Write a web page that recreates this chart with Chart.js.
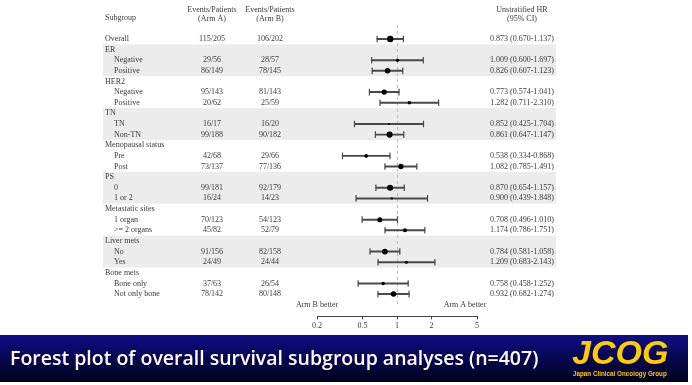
<!DOCTYPE html>
<html>
<head>
<meta charset="utf-8">
<script src="https://cdn.jsdelivr.net/npm/chart.js@4/dist/chart.umd.min.js"></script>
<style>
  body { margin: 0; background: #fff; width: 692px; height: 385px; overflow: hidden; }
  #wrap { position: relative; width: 692px; height: 338px; }
  #banner { position: absolute; left: 0; top: 335px; width: 688px; height: 47px;
    background: linear-gradient(#0d0d86, #00001a); }
  #title { position: absolute; left: 10px; top: 9px; color: #fff; font-family: "Open Sans", sans-serif;
    font-weight: 600; font-size: 19.5px; white-space: nowrap; }
  #logo { position: absolute; left: 572px; top: -1px; color: #ffcc00; font-family: "Liberation Sans", Arial, sans-serif;
    font-weight: bold; }
  #logo .j { font-style: italic; font-size: 34px; line-height: 36px; }
  #logo .s { font-size: 6.3px; line-height: 7px; margin-left: 1px; }
</style>
</head>
<body>
<div id="wrap"><canvas id="forest" width="692" height="338"></canvas></div>
<div id="banner">
  <span id="title">Forest plot of overall survival subgroup analyses (n=407)</span>
  <div id="logo"><div class="j">JCOG</div><div class="s">Japan Clinical Oncology Group</div></div>
</div>
<script>
// rows of the table, top to bottom
let rowLabels = ['Overall', 'ER', 'Negative', 'Positive', 'HER2', 'Negative', 'Positive',
    'TN', 'TN', 'Non-TN', 'Menopausal status', 'Pre', 'Post', 'PS', '0', '1 or 2',
    'Metastatic sites', '1 organ', '>= 2 organs', 'Liver mets', 'No', 'Yes',
    'Bone mets', 'Bone only', 'Not only bone'];
let rowIndent = [0, 0, 1, 1, 0, 1, 1, 0, 1, 1, 0, 1, 1, 0, 1, 1, 0, 1, 1, 0, 1, 1, 0, 1, 1];

let armA = ['115/205', '', '29/56', '86/149', '', '95/143', '20/62', '', '16/17', '99/188',
    '', '42/68', '73/137', '', '99/181', '16/24', '', '70/123', '45/82', '', '91/156', '24/49',
    '', '37/63', '78/142'];
let armB = ['106/202', '', '28/57', '78/145', '', '81/143', '25/59', '', '16/20', '90/182',
    '', '29/66', '77/136', '', '92/179', '14/23', '', '54/123', '52/79', '', '82/158', '24/44',
    '', '26/54', '80/148'];

let hr = [0.873, null, 1.009, 0.826, null, 0.773, 1.282, null, 0.852, 0.861,
    null, 0.538, 1.082, null, 0.870, 0.900, null, 0.708, 1.174, null, 0.784, 1.209,
    null, 0.758, 0.932];
let ciLow = [0.670, null, 0.600, 0.607, null, 0.574, 0.711, null, 0.425, 0.647,
    null, 0.334, 0.785, null, 0.654, 0.439, null, 0.496, 0.786, null, 0.581, 0.683,
    null, 0.458, 0.682];
let ciHigh = [1.137, null, 1.697, 1.123, null, 1.041, 2.310, null, 1.704, 1.147,
    null, 0.868, 1.491, null, 1.157, 1.848, null, 1.010, 1.751, null, 1.058, 2.143,
    null, 1.252, 1.274];

let xTicks = [0.2, 0.5, 1, 2, 5];
let shadedGroups = [1, 7, 13, 19];   // first row of each grey band (3 rows each)

let fmt = v => v.toFixed(3);
let total = i => armA[i] ? (+armA[i].split('/')[1]) + (+armB[i].split('/')[1]) : 0;
let dataRows = rowLabels.map((_, i) => i).filter(i => hr[i] != null);

let serif = '"Liberation Serif", "DejaVu Serif", serif';
let txt = '#3a3a3a';

let tablePlugin = {
    id: 'table',
    beforeDatasetsDraw(chart) {
        let ctx = chart.ctx, y = chart.scales.y, x = chart.scales.x;
        let step = y.getPixelForValue(1) - y.getPixelForValue(0);
        ctx.save();
        ctx.fillStyle = '#ececec';
        shadedGroups.forEach(g => {
            let top = y.getPixelForValue(g) - step / 2;
            ctx.fillRect(103, top, 453, step * 3);
        });
        // reference line at HR = 1
        let x1 = Math.round(x.getPixelForValue(1)) + 0.5;
        ctx.strokeStyle = '#bdbdbd';
        ctx.lineWidth = 1;
        ctx.setLineDash([3, 3]);
        ctx.beginPath();
        ctx.moveTo(x1, 25);
        ctx.lineTo(x1, y.getPixelForValue(25));
        ctx.stroke();
        ctx.restore();
    },
    afterDraw(chart) {
        let ctx = chart.ctx, y = chart.scales.y;
        ctx.save();
        ctx.fillStyle = txt;
        ctx.font = '8px ' + serif;
        ctx.textBaseline = 'middle';
        // header
        ctx.textAlign = 'left';
        ctx.fillText('Subgroup', 105, 18);
        ctx.textAlign = 'center';
        ctx.fillText('Events/Patients', 212, 10);
        ctx.fillText('(Arm A)', 212, 19);
        ctx.fillText('Events/Patients', 270, 10);
        ctx.fillText('(Arm B)', 270, 19);
        ctx.fillText('Unstratified HR', 522, 10);
        ctx.fillText('(95% CI)', 522, 19);
        rowLabels.forEach((lab, i) => {
            let py = y.getPixelForValue(i);
            ctx.textAlign = 'left';
            ctx.fillText(lab, rowIndent[i] ? 114 : 105, py);
            ctx.textAlign = 'center';
            if (armA[i]) ctx.fillText(armA[i], 212, py);
            if (armB[i]) ctx.fillText(armB[i], 270, py);
            if (hr[i] != null) {
                ctx.fillText(fmt(hr[i]) + ' (' + fmt(ciLow[i]) + '-' + fmt(ciHigh[i]) + ')', 522, py);
            }
        });
        let py = y.getPixelForValue(25);
        ctx.fillText('Arm B better', 317, py);
        ctx.fillText('Arm A better', 465, py);
        ctx.restore();
    }
};

let init = () => {
    let ctx = document.getElementById('forest').getContext('2d');
    new Chart(ctx, {
        type: 'scatter',
        data: {
            datasets: [{
                // point estimates, size by number of patients
                type: 'scatter',
                order: 0,
                data: dataRows.map(i => ({x: hr[i], y: i})),
                pointRadius: dataRows.map(i => 0.16 * Math.sqrt(total(i))),
                backgroundColor: '#000',
                borderWidth: 0
            }, {
                // whisker caps
                type: 'scatter',
                order: 1,
                data: dataRows.map(i => ({x: ciLow[i], y: i}))
                    .concat(dataRows.map(i => ({x: ciHigh[i], y: i}))),
                pointStyle: 'line',
                rotation: 90,
                pointRadius: 3.3,
                borderColor: '#4a4a4a',
                borderWidth: 1.2
            }, {
                // confidence intervals
                type: 'bar',
                order: 2,
                indexAxis: 'y',
                data: dataRows.map(i => ({y: i, x: [ciLow[i], ciHigh[i]]})),
                barThickness: 1.3,
                backgroundColor: '#4a4a4a',
                borderWidth: 0
            }]
        },
        options: {
            responsive: false,
            animation: false,
            layout: {padding: {top: 23, left: 317, right: 215, bottom: 5}},
            plugins: {legend: {display: false}, tooltip: {enabled: false}},
            scales: {
                x: {
                    type: 'logarithmic',
                    min: 0.2,
                    max: 5,
                    offset: false,
                    afterBuildTicks: s => { s.ticks = xTicks.map(v => ({value: v})); },
                    ticks: {
                        callback: v => String(v),
                        color: txt,
                        font: {family: serif, size: 8},
                        padding: 2,
                        maxRotation: 0,
                        autoSkip: false
                    },
                    grid: {drawOnChartArea: false, tickLength: 3, color: '#444', offset: false},
                    border: {display: true, color: '#444', width: 1}
                },
                y: {
                    type: 'linear',
                    reverse: true,
                    min: -1.5,
                    max: 26.1,
                    offset: false,
                    grid: {offset: false},
                    display: false
                }
            }
        },
        plugins: [tablePlugin]
    });
};

init();
</script>
</body>
</html>
